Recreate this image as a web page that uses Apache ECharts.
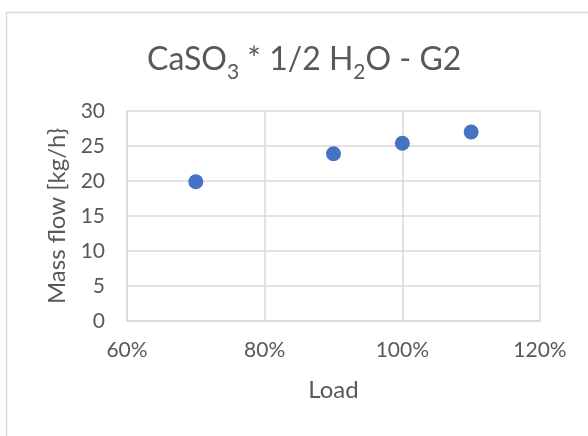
<!DOCTYPE html>
<html>
<head>
<meta charset="utf-8">
<script src="https://cdn.jsdelivr.net/npm/echarts@6/dist/echarts.min.js"></script>
<style>
  html, body { margin: 0; padding: 0; background: #fff; }
  #chart { width: 588px; height: 436px; }
</style>
</head>
<body>
<div id="chart"></div>
<script>
// Load fraction (x) and mass flow in kg/h (y)
const loadValues = [0.7, 0.9, 1.0, 1.1];
const massFlow = [19.9, 23.9, 25.4, 27.0];
const xTicks = [0.6, 0.8, 1.0, 1.2];
const yTicks = [0, 5, 10, 15, 20, 25, 30];

const FONT = 'Lato';
const TEXT = '#595959';
const GRID = '#d9d9d9';

const chart = echarts.init(document.getElementById('chart'), null, { renderer: 'canvas' });

chart.setOption({
  animation: false,
  backgroundColor: '#fff',
  graphic: [{
    type: 'polyline',
    shape: { points: [[6.5, 440], [6.5, 12.5], [600, 12.5]] },
    style: { stroke: '#d9d9d9', lineWidth: 1.5, fill: null },
    silent: true
  }],
  title: {
    text: '{m|CaSO}{s|3}{m| * 1/2 H}{s|2}{m|O - G2}',
    left: 142,
    top: 33,
    textStyle: {
      fontWeight: 'normal',
      rich: {
        m: { fontFamily: FONT, fontSize: 32, fontWeight: 'normal', color: TEXT, verticalAlign: 'bottom', lineHeight: 38 },
        s: { fontFamily: FONT, fontSize: 21, fontWeight: 'normal', color: TEXT, verticalAlign: 'bottom', padding: [0, 0, -7, 0], lineHeight: 38 }
      }
    }
  },
  grid: { left: 127, right: 48, top: 111, bottom: 115, containLabel: false },
  xAxis: {
    type: 'value',
    min: xTicks[0],
    max: xTicks[xTicks.length - 1],
    interval: 0.2,
    name: 'Load',
    nameLocation: 'middle',
    nameGap: 57,
    nameTextStyle: { fontFamily: FONT, fontSize: 24, color: TEXT },
    axisLine: { show: true, lineStyle: { color: GRID, width: 1.5 } },
    axisTick: { show: false },
    splitLine: { show: true, lineStyle: { color: GRID, width: 1.5 } },
    axisLabel: {
      fontFamily: FONT, fontSize: 21, color: TEXT, margin: 19,
      formatter: v => Math.round(v * 100) + '%'
    }
  },
  yAxis: {
    type: 'value',
    min: yTicks[0],
    max: yTicks[yTicks.length - 1],
    interval: 5,
    name: 'Mass flow [kg/h}',
    nameLocation: 'middle',
    nameGap: 57,
    nameTextStyle: { fontFamily: FONT, fontSize: 24, color: TEXT },
    axisLine: { show: true, lineStyle: { color: GRID, width: 1.5 } },
    axisTick: { show: false },
    splitLine: { show: true, lineStyle: { color: GRID, width: 1.5 } },
    axisLabel: { fontFamily: FONT, fontSize: 21, color: TEXT, margin: 22 }
  },
  series: [{
    type: 'scatter',
    data: loadValues.map((x, i) => [x, massFlow[i]]),
    symbol: 'circle',
    symbolSize: 15,
    itemStyle: { color: '#4472C4', opacity: 1 }
  }]
});
</script>
</body>
</html>
